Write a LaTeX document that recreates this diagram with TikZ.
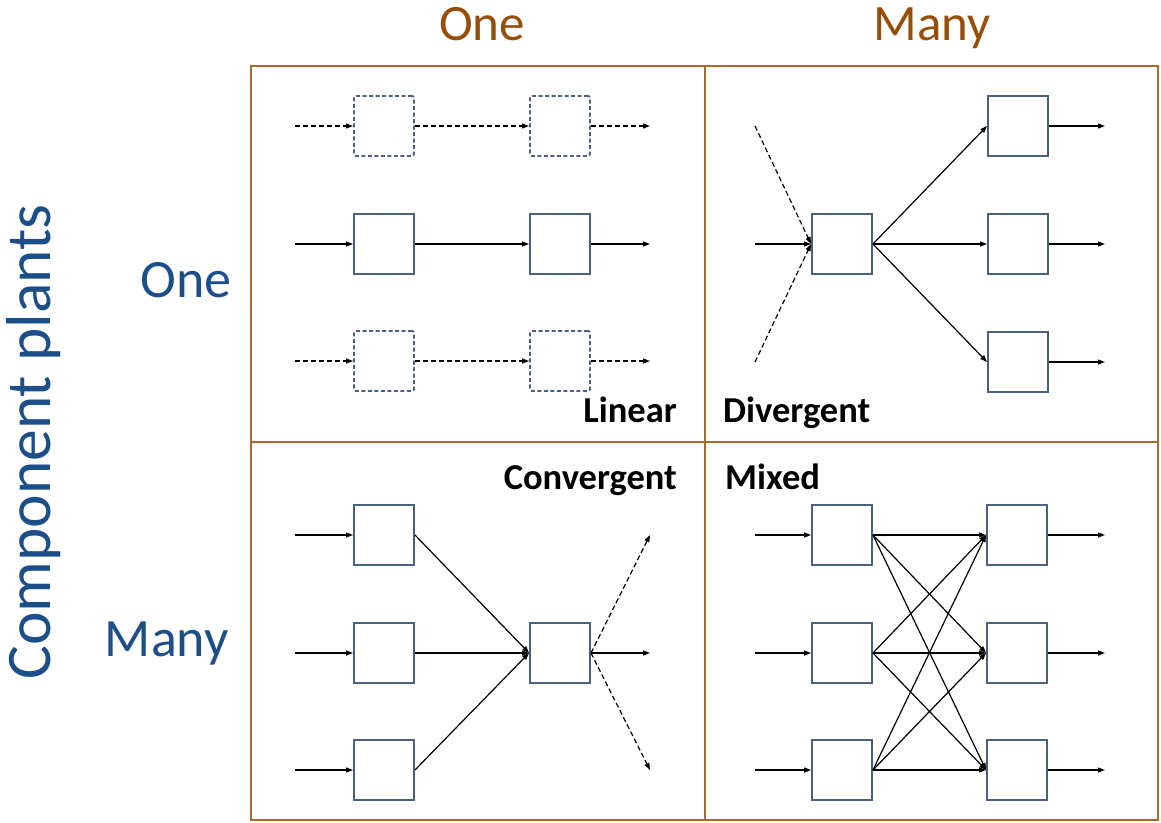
\documentclass[tikz,border=0pt]{standalone}
\usepackage{fontspec}
\setmainfont{Carlito}
\usetikzlibrary{arrows.meta}
\definecolor{gridbrown}{RGB}{166,108,40}
\definecolor{headbrown}{RGB}{150,78,8}
\definecolor{rowblue}{RGB}{28,78,138}
\definecolor{boxblue}{RGB}{74,96,128}
\tikzset{
  box/.style={draw=boxblue, line width=1.9pt, minimum size=60pt, inner sep=0pt, fill=white},
  dbox/.style={box, dashed, dash pattern=on 4pt off 2.5pt, rounded corners=2pt},
  arr/.style={-{Triangle[length=7pt,width=5pt]}, line width=1.2pt},
  darr/.style={arr, dash pattern=on 5pt off 3pt},
  colhead/.style={text=headbrown, font=\fontsize{51}{58}\selectfont, anchor=base, inner sep=0pt},
  rowhead/.style={text=rowblue, font=\fontsize{54}{62}\selectfont, inner sep=0pt},
  tag/.style={font=\bfseries\fontsize{36.5}{42}\selectfont, inner sep=0pt},
}
\begin{document}
\begin{tikzpicture}[x=1pt,y=-1pt]
\useasboundingbox (0,0) rectangle (1161,822);

% quadrant frame
\draw[gridbrown, line width=2pt] (251,66) rectangle (1158,820);
\draw[gridbrown, line width=2pt] (705,66) -- (705,820);
\draw[gridbrown, line width=2pt] (251,442) -- (1158,442);

% axis labels
\node[colhead] (hOne) at (482,40) {One};
\node[colhead] (hMany) at (932,40) {Many};
\node[rowhead, rotate=90, anchor=base, font=\fontsize{63.5}{72}\selectfont] (hAxis) at (50,442) {Component plants};
\node[rowhead, anchor=base east] (rOne) at (232,297) {One};
\node[rowhead, anchor=base east] (rMany) at (229,656) {Many};

% quadrant names
\node[tag, anchor=base east] (tLin) at (677,422) {Linear};
\node[tag, anchor=base west] (tDiv) at (723,422) {Divergent};
\node[tag, anchor=base east] (tCon) at (677,489) {Convergent};
\node[tag, anchor=base west] (tMix) at (725,489) {Mixed};

% ---- Linear ----
\node[dbox] (L1a) at (384,126) {};
\node[dbox] (L1b) at (560,126) {};
\node[box]  (L2a) at (384,244) {};
\node[box]  (L2b) at (560,244) {};
\node[dbox] (L3a) at (384,361) {};
\node[dbox] (L3b) at (560,361) {};
\coordinate (L1in) at (295,126); \coordinate (L1out) at (650,126);
\coordinate (L2in) at (295,244); \coordinate (L2out) at (650,244);
\coordinate (L3in) at (295,361); \coordinate (L3out) at (650,361);
\draw[darr] (L1in) -- (L1a.west);
\draw[darr] (L1a.east) -- (L1b.west);
\draw[darr] (L1b.east) -- (L1out);
\draw[arr] (L2in) -- (L2a.west);
\draw[arr] (L2a.east) -- (L2b.west);
\draw[arr] (L2b.east) -- (L2out);
\draw[darr] (L3in) -- (L3a.west);
\draw[darr] (L3a.east) -- (L3b.west);
\draw[darr] (L3b.east) -- (L3out);

% ---- Divergent ----
\node[box] (D0) at (842,244) {};
\node[box] (D1) at (1018,126) {};
\node[box] (D2) at (1018,244) {};
\node[box] (D3) at (1018,362) {};
\coordinate (Din) at (755,244);
\coordinate (Dup) at (755,126);
\coordinate (Ddn) at (755,362);
\coordinate (Dout1) at (1105,126);
\coordinate (Dout2) at (1105,244);
\coordinate (Dout3) at (1105,362);
\draw[arr] (Din) -- (D0.west);
\draw[darr] (Dup) -- (D0.west);
\draw[darr] (Ddn) -- (D0.west);
\foreach \i in {1,2,3} {
  \draw[arr] (D0.east) -- (D\i.west);
  \draw[arr] (D\i.east) -- (Dout\i);
}

% ---- Convergent ----
\node[box] (C1) at (384,535) {};
\node[box] (C2) at (384,653) {};
\node[box] (C3) at (384,770) {};
\node[box] (C0) at (560,653) {};
\coordinate (C1in) at (295,535);
\coordinate (C2in) at (295,653);
\coordinate (C3in) at (295,770);
\coordinate (Cout) at (650,653);
\coordinate (Cup) at (650,535);
\coordinate (Cdn) at (650,770);
\foreach \i in {1,2,3} {
  \draw[arr] (C\i in) -- (C\i.west);
  \draw[arr] (C\i.east) -- (C0.west);
}
\draw[arr] (C0.east) -- (Cout);
\draw[darr] (C0.east) -- (Cup);
\draw[darr] (C0.east) -- (Cdn);

% ---- Mixed ----
\node[box] (M1) at (842,535) {};
\node[box] (M2) at (842,653) {};
\node[box] (M3) at (842,770) {};
\node[box] (N1) at (1017,535) {};
\node[box] (N2) at (1017,653) {};
\node[box] (N3) at (1017,770) {};
\coordinate (M1in) at (755,535);
\coordinate (M2in) at (755,653);
\coordinate (M3in) at (755,770);
\coordinate (N1out) at (1105,535);
\coordinate (N2out) at (1105,653);
\coordinate (N3out) at (1105,770);
\foreach \i in {1,2,3} {
  \draw[arr] (M\i in) -- (M\i.west);
  \draw[arr] (N\i.east) -- (N\i out);
  \foreach \j in {1,2,3} {
    \draw[arr] (M\i.east) -- (N\j.west);
  }
}
\end{tikzpicture}
\end{document}
